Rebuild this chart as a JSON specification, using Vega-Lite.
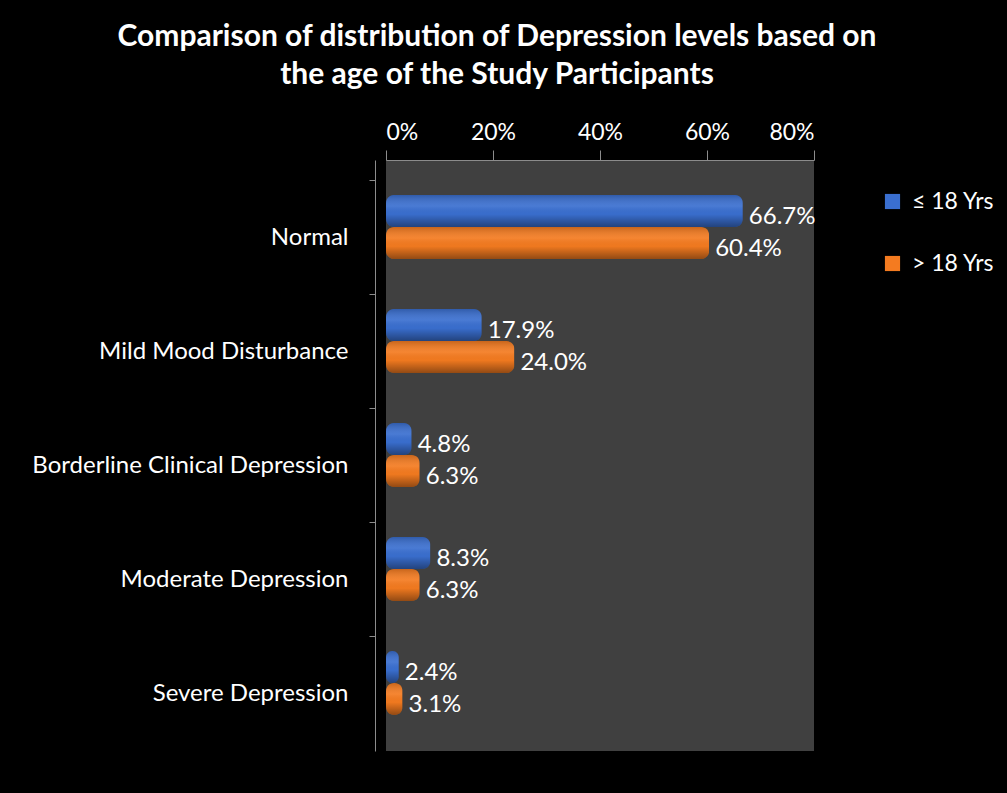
{
  "$schema": "https://vega.github.io/schema/vega-lite/v6.json",
  "width": 428,
  "height": 591,
  "autosize": {"type": "none"},
  "padding": {"left": 386, "top": 160, "right": 193, "bottom": 42},
  "background": "#000000",
  "title": {
    "text": ["Comparison of distribution of Depression levels based on", "the age of the Study Participants"],
    "fontSize": 30,
    "fontWeight": "bold",
    "color": "#ffffff",
    "anchor": "middle",
    "frame": "group",
    "dx": -103,
    "offset": 31,
    "lineHeight": 38
  },
  "data": {
    "values": [
      {"level": "Normal", "age": "≤ 18 Yrs", "pct": 0.667},
      {"level": "Normal", "age": "> 18 Yrs", "pct": 0.604},
      {"level": "Mild Mood Disturbance", "age": "≤ 18 Yrs", "pct": 0.179},
      {"level": "Mild Mood Disturbance", "age": "> 18 Yrs", "pct": 0.240},
      {"level": "Borderline Clinical Depression", "age": "≤ 18 Yrs", "pct": 0.048},
      {"level": "Borderline Clinical Depression", "age": "> 18 Yrs", "pct": 0.063},
      {"level": "Moderate Depression", "age": "≤ 18 Yrs", "pct": 0.083},
      {"level": "Moderate Depression", "age": "> 18 Yrs", "pct": 0.063},
      {"level": "Severe Depression", "age": "≤ 18 Yrs", "pct": 0.024},
      {"level": "Severe Depression", "age": "> 18 Yrs", "pct": 0.031}
    ]
  },
  "encoding": {
    "y": {
      "field": "level",
      "type": "nominal",
      "sort": ["Normal", "Mild Mood Disturbance", "Borderline Clinical Depression", "Moderate Depression", "Severe Depression"],
      "scale": {"paddingInner": 0, "paddingOuter": 0.0921, "align": 1},
      "axis": {
        "title": null,
        "labelFontSize": 24,
        "labelColor": "#ffffff",
        "domainColor": "#8c8c8c",
        "tickColor": "#8c8c8c",
        "tickSize": 6,
        "offset": 11,
        "labelPadding": 21,
        "bandPosition": 0,
        "labelLimit": 400
      }
    },
    "yOffset": {
      "field": "age",
      "type": "nominal",
      "sort": ["≤ 18 Yrs", "> 18 Yrs"],
      "scale": {"paddingInner": 0, "paddingOuter": 0.78, "align": 0.28}
    },
    "x": {
      "field": "pct",
      "type": "quantitative",
      "scale": {"domain": [0, 0.8]},
      "axis": {
        "orient": "top",
        "title": null,
        "format": ".0%",
        "values": [0, 0.2, 0.4, 0.6, 0.8],
        "tickSize": 10,
        "labelPadding": 6,
        "labelFontSize": 23,
        "labelColor": "#ffffff",
        "domainColor": "#8c8c8c",
        "tickColor": "#8c8c8c",
        "grid": false
      }
    }
  },
  "layer": [
    {
      "mark": {"type": "bar", "cornerRadius": 8},
      "encoding": {
        "color": {
          "field": "age",
          "type": "nominal",
          "sort": ["≤ 18 Yrs", "> 18 Yrs"],
          "scale": {"domain": ["≤ 18 Yrs", "> 18 Yrs"], "range": ["#3a6fd0", "#f47b20"]},
          "legend": {
            "title": null,
            "orient": "none",
            "legendX": 495,
            "legendY": 30,
            "symbolType": "square",
            "symbolSize": 230,
            "labelFontSize": 23,
            "labelColor": "#ffffff",
            "rowPadding": 38,
            "labelOffset": 8
          }
        }
      }
    },
    {
      "mark": {
        "type": "bar",
        "cornerRadius": 8,
        "fill": {
          "gradient": "linear",
          "x1": 0, "y1": 0, "x2": 0, "y2": 1,
          "stops": [
            {"offset": 0, "color": "rgba(0,0,0,0.18)"},
            {"offset": 0.35, "color": "rgba(255,255,255,0.08)"},
            {"offset": 0.6, "color": "rgba(0,0,0,0.02)"},
            {"offset": 1, "color": "rgba(0,0,0,0.4)"}
          ]
        }
      }
    },
    {
      "mark": {"type": "text", "align": "left", "baseline": "middle", "dx": 6, "dy": 6, "fontSize": 24, "color": "#ffffff"},
      "encoding": {
        "text": {"field": "pct", "type": "quantitative", "format": ".1%"}
      }
    }
  ],
  "config": {
    "font": "Lato",
    "view": {"fill": "#404040", "stroke": null}
  }
}
